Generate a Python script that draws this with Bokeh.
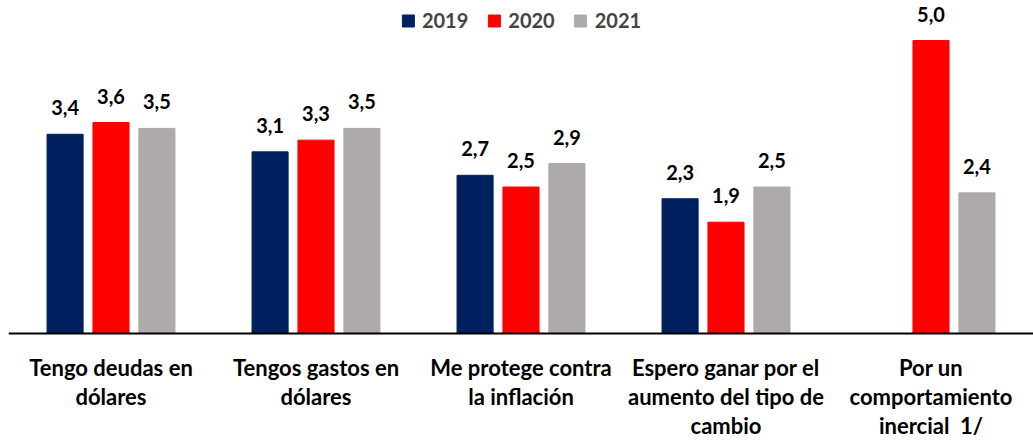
from bokeh.plotting import figure
from bokeh.models import ColumnDataSource, FactorRange, Legend, LegendItem, Span
from bokeh.transform import dodge
from bokeh.embed import file_html
from bokeh.resources import INLINE
from bokeh.core.properties import value

categories = ["Tengo deudas en\ndólares", "Tengos gastos en\ndólares", "Me protege contra\nla inflación",
              "Espero ganar por el\naumento del tipo de\ncambio", "Por un\ncomportamiento\ninercial\u00a0 1/"]
series = ["2019", "2020", "2021"]
v2019 = [3.4, 3.1, 2.7, 2.3, None]
v2020 = [3.6, 3.3, 2.5, 1.9, 5.0]
v2021 = [3.5, 3.5, 2.9, 2.5, 2.4]
colors = ["#002060", "#FF0000", "#AEAAAA"]

FONT = "Lato"

p = figure(x_range=FactorRange(*categories, range_padding=0), y_range=(-1.843, 5.683),
           width=1033, height=441, output_backend="svg", toolbar_location=None,
           min_border_left=8, min_border_right=0, min_border_top=0, min_border_bottom=0,
           outline_line_color=None)

offsets = [-0.224, 0.0, 0.224]
items = []
for name, vals, col, off in zip(series, [v2019, v2020, v2021], colors, offsets):
    xs = [c for c, v in zip(categories, vals) if v is not None]
    ys = [v for v in vals if v is not None]
    labels = [f"{v:.1f}".replace(".", ",") for v in ys]
    src = ColumnDataSource(dict(x=xs, top=ys, lab=labels))
    r = p.vbar(x=dodge("x", off, range=p.x_range), top="top", width=0.176, source=src,
               fill_color=col, line_color=col)
    p.text(x=dodge("x", off, range=p.x_range), y="top", text="lab", source=src,
           text_align="center", text_baseline="bottom", y_offset=-19,
           text_font=value(FONT), text_font_style="bold", text_font_size="20px", text_color="black")
    items.append(LegendItem(label=name, renderers=[r]))

# category labels below the baseline
csrc = ColumnDataSource(dict(x=categories, y=[0] * len(categories), lab=categories))
p.text(x="x", y="y", text="lab", source=csrc, text_align="center", text_baseline="top",
       y_offset=20, text_font=value(FONT), text_font_style="bold", text_font_size="22px",
       text_color="black", text_line_height=1.08)

p.add_layout(Span(location=0, dimension="width", line_color="black", line_width=2))

legend = Legend(items=items, orientation="horizontal", location="top_center",
                border_line_color=None, background_fill_alpha=0, glyph_width=15, glyph_height=15,
                label_text_font=FONT, label_text_font_style="bold", label_text_font_size="20px",
                spacing=18, padding=0, margin=8, label_standoff=7)
p.add_layout(legend, "center")

p.xaxis.visible = False
p.yaxis.visible = False
p.xgrid.grid_line_color = None
p.ygrid.grid_line_color = None

open("out.html", "w").write(file_html(p, INLINE))
